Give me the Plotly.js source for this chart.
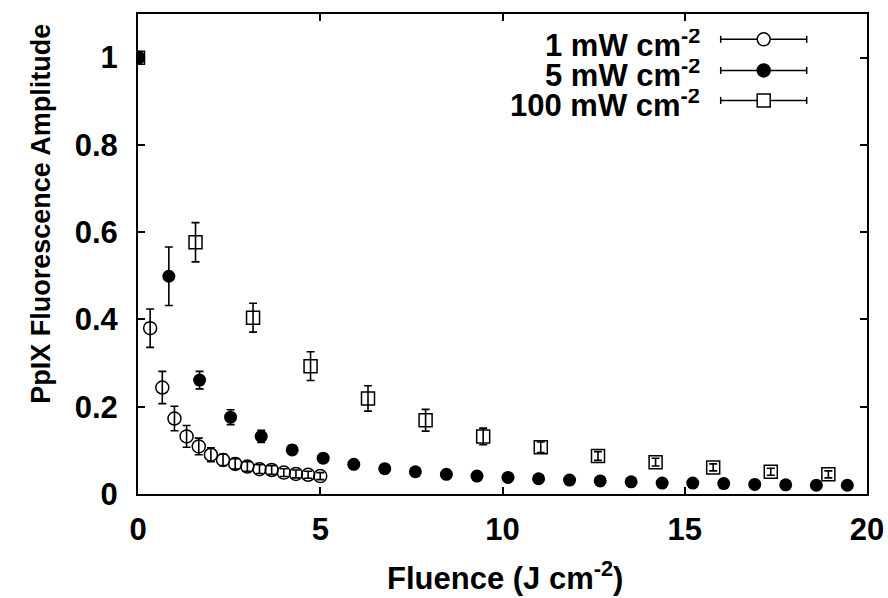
<!DOCTYPE html>
<html>
<head>
<meta charset="utf-8">
<script src="https://cdn.plot.ly/plotly-3.0.1.min.js"></script>
<style>html,body{margin:0;padding:0;background:#fff;}#chart{width:888px;height:598px;}</style>
</head>
<body>
<div id="chart"></div>
<script>
// ---- data ----
const seriesNames = ["1 mW cm<sup>-2</sup>", "5 mW cm<sup>-2</sup>", "100 mW cm<sup>-2</sup>"];

const x1mW = [0, 0.333, 0.667, 1.0, 1.333, 1.667, 2.0, 2.333, 2.667, 3.0, 3.333, 3.667, 4.0, 4.333, 4.667, 5.0];
const y1mW = [1.0, 0.380, 0.244, 0.173, 0.132, 0.109, 0.090, 0.078, 0.069, 0.063, 0.057, 0.055, 0.049, 0.046, 0.044, 0.041];
const e1mW = [0, 0.044, 0.037, 0.028, 0.025, 0.019, 0.016, 0.013, 0.012, 0.011, 0.010, 0.010, 0.009, 0.009, 0.008, 0.008];

const x5mW = [0, 0.846, 1.69, 2.54, 3.38, 4.23, 5.08, 5.92, 6.77, 7.61, 8.46, 9.30, 10.15, 10.99, 11.84, 12.68, 13.53, 14.38, 15.22, 16.07, 16.92, 17.77, 18.61, 19.46];
const y5mW = [1.0, 0.499, 0.261, 0.176, 0.132, 0.101, 0.082, 0.068, 0.058, 0.051, 0.045, 0.041, 0.038, 0.035, 0.032, 0.030, 0.028, 0.025, 0.025, 0.024, 0.022, 0.021, 0.020, 0.020];
const e5mW = [0, 0.067, 0.020, 0.017, 0.014, 0.010, 0.010, 0.008, 0.006, 0.006, 0.005, 0.005, 0.005, 0.005, 0.004, 0.004, 0.004, 0.004, 0.004, 0.004, 0.004, 0.004, 0.004, 0.004];

const x100mW = [0, 1.578, 3.156, 4.734, 6.31, 7.89, 9.47, 11.05, 12.62, 14.20, 15.78, 17.36, 18.94];
const y100mW = [1.0, 0.577, 0.404, 0.293, 0.219, 0.169, 0.132, 0.107, 0.087, 0.073, 0.061, 0.051, 0.045];
const e100mW = [0, 0.045, 0.033, 0.033, 0.029, 0.025, 0.019, 0.012, 0.010, 0.009, 0.008, 0.008, 0.008];

const xTitle = "Fluence (J cm<sup>-2</sup>)";
const yTitle = "PpIX Fluorescence Amplitude";

// ---- styling ----
const FONT = "Liberation Sans, Arial, sans-serif";
const FS = 31;
const err = (arr) => ({type: "data", array: arr, visible: true, color: "#000", thickness: 1.6, width: 4});

const traces = [
  {x: x1mW, y: y1mW, error_y: err(e1mW), type: "scatter", mode: "markers", name: seriesNames[0],
   marker: {symbol: "circle-open", size: 13, color: "#000", line: {width: 1.5, color: "#000"}}},
  {x: x5mW, y: y5mW, error_y: err(e5mW), type: "scatter", mode: "markers", name: seriesNames[1],
   marker: {symbol: "circle", size: 13, color: "#000"}},
  {x: x100mW, y: y100mW, error_y: err(e100mW), type: "scatter", mode: "markers", name: seriesNames[2],
   marker: {symbol: "square-open", size: 13, color: "#000", line: {width: 1.5, color: "#000"}}}
];

// manual legend (text left, sample on right, horizontal error bar sample)
const legX = 0.8583;
const legY = [0.9472, 0.8825, 0.820];
const textX = 0.7723;
const textY = [0.9389, 0.8763, 0.8137];
const shapes = [];
const annotations = [];
const kinds = ["ocircle", "fcircle", "osquare"];
legY.forEach((yy, i) => {
  const base = {xref: "paper", yref: "paper", xsizemode: "pixel", ysizemode: "pixel", xanchor: legX, yanchor: yy};
  shapes.push(Object.assign({}, base, {type: "line", x0: -43, x1: 43, y0: 0, y1: 0, line: {color: "#000", width: 1.5}}));
  shapes.push(Object.assign({}, base, {type: "line", x0: -43, x1: -43, y0: -3.5, y1: 3.5, line: {color: "#000", width: 1.5}}));
  shapes.push(Object.assign({}, base, {type: "line", x0: 43, x1: 43, y0: -3.5, y1: 3.5, line: {color: "#000", width: 1.5}}));
  const k = kinds[i];
  if (k === "osquare") {
    shapes.push(Object.assign({}, base, {type: "rect", x0: -6.5, x1: 6.5, y0: -6.5, y1: 6.5, fillcolor: "#fff", line: {color: "#000", width: 1.5}}));
  } else {
    shapes.push(Object.assign({}, base, {type: "circle", x0: -6.5, x1: 6.5, y0: -6.5, y1: 6.5,
      fillcolor: k === "fcircle" ? "#000" : "#fff", line: {color: "#000", width: 1.5}}));
  }
  annotations.push({xref: "paper", yref: "paper", x: textX, y: textY[i], xanchor: "right", yanchor: "middle",
    height: 28, valign: "middle", borderpad: 0,
    text: seriesNames[i], showarrow: false, font: {family: FONT, size: FS, color: "#000", weight: 700}});
});

annotations.push({xref: "paper", yref: "paper", x: -0.133, y: 0.584, xanchor: "center", yanchor: "middle",
  textangle: -90, text: yTitle, showarrow: false, font: {family: FONT, size: 27, color: "#000", weight: 700}});
annotations.push({xref: "paper", yref: "paper", x: 0.504, y: -0.171, xanchor: "center", yanchor: "middle",
  text: xTitle, showarrow: false, font: {family: FONT, size: FS, color: "#000", weight: 700}});

const axisCommon = {
  showline: true, linecolor: "#000", linewidth: 2, mirror: "ticks",
  ticks: "inside", ticklen: 7, tickwidth: 2, tickcolor: "#000",
  showgrid: false, zeroline: false,
  tickfont: {family: FONT, size: FS, color: "#000", weight: 700}
};

const layout = {
  width: 888, height: 598,
  margin: {l: 138, r: 21, t: 14, b: 104, pad: 0},
  paper_bgcolor: "#fff", plot_bgcolor: "#fff",
  showlegend: false,
  xaxis: Object.assign({}, axisCommon, {range: [0, 20], tick0: 0, dtick: 5, ticklabelstandoff: 7}),
  yaxis: Object.assign({}, axisCommon, {range: [0, 1.1], tick0: 0, dtick: 0.2, ticklabelstandoff: 12}),
  shapes: shapes,
  annotations: annotations
};

Plotly.newPlot("chart", traces, layout, {staticPlot: true, displayModeBar: false});
</script>
</body>
</html>
